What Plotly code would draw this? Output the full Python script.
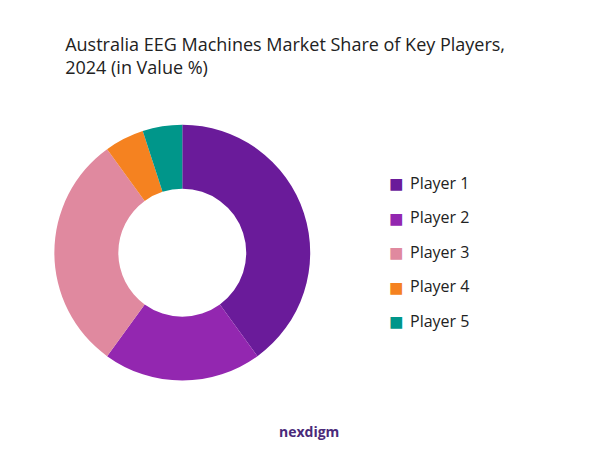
import plotly.graph_objects as go

labels = ["Player 1", "Player 2", "Player 3", "Player 4", "Player 5"]
values = [40, 20, 30, 5, 5]
colors = ["#6A1B9A", "#9327B0", "#E0899F", "#F58220", "#00968A"]

fig = go.Figure(go.Pie(
    labels=labels, values=values, hole=0.5, sort=False, direction="clockwise",
    rotation=0, marker=dict(colors=colors), textinfo="none", showlegend=False,
    domain=dict(x=[0.077, 0.502], y=[0.17, 0.745])
))
ann = []
for i, (lab, col) in enumerate(zip(labels, colors)):
    y = 0.613 - i * 0.0765
    ann.append(dict(text="■", x=0.645, y=y, xref="paper", yref="paper", showarrow=False,
                    xanchor="center", yanchor="middle", font=dict(size=24, color=col)))
    ann.append(dict(text=lab, x=0.665, y=y, xref="paper", yref="paper", showarrow=False,
                    xanchor="left", yanchor="middle",
                    font=dict(family="Open Sans", size=16, color="#222")))
ann.append(dict(text="<b>nexdigm</b>", x=0.5, y=0.035, xref="paper", yref="paper",
                showarrow=False, font=dict(family="Open Sans", size=14, color="#4A2A7A")))
fig.update_layout(
    width=602, height=451, paper_bgcolor="white", plot_bgcolor="white",
    margin=dict(l=0, r=0, t=0, b=0),
    title=dict(text="Australia EEG Machines Market Share of Key Players,<br>2024 (in Value %)",
               x=0.095, y=0.905, xanchor="left", yanchor="top",
               font=dict(family="Open Sans", size=18, color="#222")),
    annotations=ann,
)
fig.write_html("out.html")
